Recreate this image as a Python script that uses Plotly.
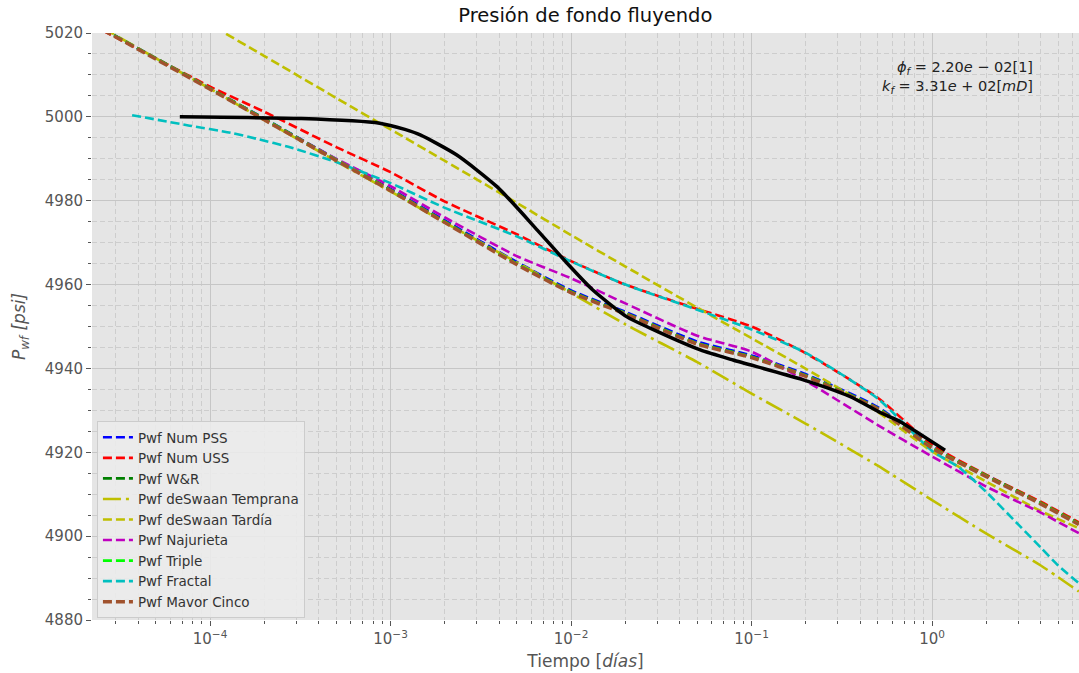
import plotly.graph_objects as go

# ---------------- data ----------------
t_model = [2.2e-5, 5e-5, 1e-4, 2e-4, 5e-4, 1e-3, 2e-3, 5e-3, 1e-2, 2e-2, 5e-2,
           0.1, 0.2, 0.5, 1.0, 2.0, 4.0, 6.5]

pwf_num_pss = [5022.5, 5014.0, 5006.8, 4999.6, 4989.9, 4982.8, 4975.3, 4965.4, 4958.6,
               4953.5, 4946.4, 4943.1, 4938.6, 4930.8, 4921.4, 4914.5, 4908.0, 4903.1]
pwf_num_uss = [5022.0, 5014.0, 5007.2, 5001.2, 4992.8, 4986.8, 4979.8, 4972.0, 4965.6,
               4960.0, 4954.2, 4950.0, 4943.6, 4933.0, 4921.8, 4914.6, 4908.2, 4903.3]
pwf_wr = [5022.5, 5014.0, 5006.8, 4999.5, 4989.8, 4982.6, 4975.0, 4965.0, 4958.3,
          4953.2, 4946.0, 4942.8, 4938.3, 4930.5, 4921.2, 4914.4, 4907.9, 4903.0]
pwf_deswaan_temprana = [5022.8, 5014.0, 5006.7, 4999.2, 4989.4, 4982.2, 4974.8, 4965.3, 4958.0,
                        4950.5, 4941.5, 4934.0, 4926.8, 4916.8, 4908.6, 4900.6, 4893.0, 4886.8]
pwf_deswaan_tardia = [5038.4, 5029.5, 5022.0, 5014.5, 5004.5, 4997.0, 4989.5, 4979.5, 4971.8,
                      4964.3, 4954.5, 4947.2, 4939.9, 4929.6, 4920.2, 4913.0, 4906.0, 4901.9]
pwf_najurieta = [5022.5, 5014.0, 5006.8, 4999.4, 4990.0, 4983.5, 4976.0, 4966.8, 4961.5,
                 4955.5, 4947.8, 4944.0, 4937.0, 4926.5, 4919.0, 4911.8, 4905.6, 4900.7]
pwf_triple = [5022.5, 5014.0, 5006.8, 4999.5, 4989.8, 4982.6, 4975.0, 4965.0, 4958.3,
              4953.2, 4946.0, 4942.8, 4938.3, 4930.5, 4921.2, 4914.4, 4907.9, 4903.0]
pwf_mayor_cinco = [5022.3, 5013.8, 5006.6, 4999.3, 4989.6, 4982.4, 4974.8, 4964.8, 4958.1,
                   4953.0, 4945.8, 4942.6, 4938.1, 4930.3, 4921.0, 4914.2, 4907.7, 4902.8]

t_fractal = [3.7e-5, 7.7e-5, 1.3e-4, 1.8e-4, 2.8e-4, 5e-4, 1e-3, 2e-3, 5e-3, 1e-2, 2e-2, 5e-2,
             0.1, 0.2, 0.5, 1.0, 1.4, 2.0, 3.0, 4.0, 5.0, 6.5]
pwf_fractal = [5000.4, 4997.9, 4996.2, 4994.8, 4992.7, 4989.2, 4984.2, 4978.3, 4971.5,
               4965.5, 4960.0, 4954.0, 4949.3, 4943.7, 4932.8, 4920.3, 4916.5, 4910.5,
               4902.8, 4897.3, 4893.0, 4888.8]

t_data = [6.8e-5, 3.2e-4, 8.7e-4, 1.2e-3, 1.46e-3, 2.33e-3, 3.9e-3, 6.5e-3, 9.5e-3,
          1.32e-2, 2.04e-2, 2.74e-2, 5.2e-2, 7.9e-2, 0.186, 0.35, 0.515, 0.665, 1.18]
pwf_data = [5000.0, 4999.6, 4998.5, 4997.0, 4995.7, 4990.9, 4983.3, 4973.0, 4965.1,
            4958.7, 4952.3, 4949.6, 4944.4, 4942.0, 4937.5, 4933.3, 4929.5, 4927.3, 4920.5]

labels = ["Pwf Num PSS", "Pwf Num USS", "Pwf W&R", "Pwf deSwaan Temprana",
          "Pwf deSwaan Tardía", "Pwf Najurieta", "Pwf Triple", "Pwf Fractal",
          "Pwf Mavor Cinco"]
colors = ["#0000FF", "#FF0000", "#008000", "#BFBF00", "#BFBF00", "#BF00BF",
          "#00FF00", "#00BFBF", "#A0522D"]

x_tickvals = [1e-4, 1e-3, 1e-2, 1e-1, 1e0]
x_ticktext = ["10<sup>−4</sup>", "10<sup>−3</sup>", "10<sup>−2</sup>",
              "10<sup>−1</sup>", "10<sup>0</sup>"]

series = [
    (t_model, pwf_num_pss), (t_model, pwf_num_uss), (t_model, pwf_wr),
    (t_model, pwf_deswaan_temprana), (t_model, pwf_deswaan_tardia),
    (t_model, pwf_najurieta), (t_model, pwf_triple), (t_fractal, pwf_fractal),
    (t_model, pwf_mayor_cinco),
]

DASH = "9px,4px"
DASHDOT = "18px,5px,3px,5px"

fig = go.Figure()
for (tx, py), lab, col in zip(series, labels, colors):
    dash = DASHDOT if lab == "Pwf deSwaan Temprana" else DASH
    width = 3.6 if lab == "Pwf Mavor Cinco" else 2.6
    fig.add_trace(go.Scatter(x=tx, y=py, mode="lines", name=lab,
                             line=dict(color=col, width=width, dash=dash, shape="spline",
                                       smoothing=0.6)))

fig.add_trace(go.Scatter(x=t_data, y=pwf_data, mode="lines", showlegend=False,
                         line=dict(color="black", width=3.5, shape="spline", smoothing=0.6)))

grid_major = "#C6C6C6"
grid_minor = "#CDCDCD"

fig.update_layout(
    width=1079, height=673,
    margin=dict(l=92, r=0, t=33, b=53),
    paper_bgcolor="white",
    plot_bgcolor="#E5E5E5",
    font=dict(family="DejaVu Sans", color="#555555"),
    title=dict(text="Presión de fondo fluyendo", x=0.5425, xanchor="center",
               y=0.977, yanchor="middle",
               font=dict(size=19.5, color="#111111", family="DejaVu Sans")),
    showlegend=True,
    legend=dict(x=0.005, y=0.0034, xanchor="left", yanchor="bottom",
                bgcolor="rgba(236,236,236,0.85)", bordercolor="#CCCCCC", borderwidth=1,
                font=dict(size=13.5, color="#333333", family="DejaVu Sans")),
)

fig.update_xaxes(
    type="log", range=[-4.654, 0.814], autorange=False,
    tickmode="array", tickvals=x_tickvals, ticktext=x_ticktext,
    ticks="outside", ticklen=5, tickcolor="#555555",
    tickfont=dict(size=15, color="#555555"),
    showgrid=True, gridcolor=grid_major, gridwidth=1,
    minor=dict(dtick="D1", ticks="outside", ticklen=3, tickcolor="#555555",
               showgrid=True, gridcolor=grid_minor, gridwidth=1, griddash="5px,3px"),
    zeroline=False, showline=False, automargin=False,
    title=dict(text="Tiempo [<i>días</i>]", font=dict(size=17, color="#555555"), standoff=8),
)

fig.update_yaxes(
    range=[4880, 5020], autorange=False, dtick=20, tick0=4880,
    ticks="outside", ticklen=5, tickcolor="#555555",
    tickfont=dict(size=15, color="#555555"),
    showgrid=True, gridcolor=grid_major, gridwidth=1,
    minor=dict(dtick=5, ticks="outside", ticklen=3, tickcolor="#555555",
               showgrid=True, gridcolor=grid_minor, gridwidth=1, griddash="5px,3px"),
    zeroline=False, showline=False, automargin=False,
    title=dict(text="<i>P<sub>wf</sub> [psi]</i>", font=dict(size=17, color="#555555"), standoff=14),
)

fig.add_annotation(
    xref="paper", yref="paper", x=0.9554, y=0.924, xanchor="right", yanchor="middle",
    align="right", showarrow=False,
    text="<i>ϕ<sub>f</sub></i> = 2.20<i>e</i> − 02[1]<br><i>k<sub>f</sub></i> = 3.31<i>e</i> + 02[<i>mD</i>]",
    font=dict(size=14.5, color="#222222", family="DejaVu Sans"),
)

fig.write_html("out.html", config={"displayModeBar": False},
               post_script="document.body.style.margin='0';")
